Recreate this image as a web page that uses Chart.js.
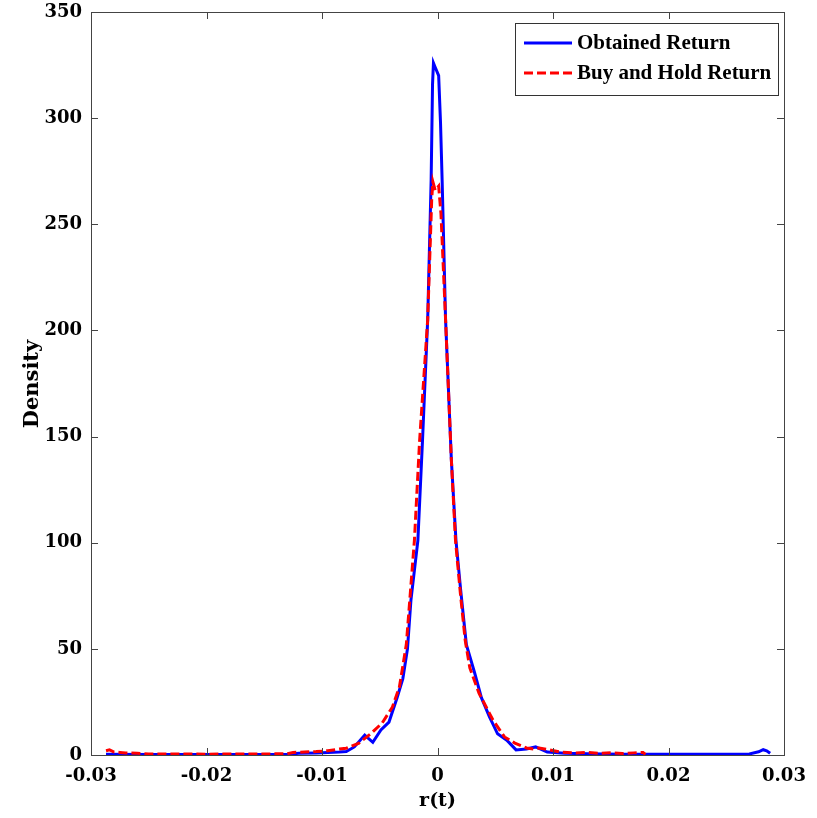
<!DOCTYPE html>
<html>
<head>
<meta charset="utf-8">
<script src="https://cdn.jsdelivr.net/npm/chart.js@4.4.0/dist/chart.umd.min.js"></script>
<style>
  body { margin: 0; background: #fff; }
  canvas { display: block; }
</style>
</head>
<body>
<canvas id="densityChart" width="817" height="818"></canvas>
<script>
const xTicks = [-0.03, -0.02, -0.01, 0, 0.01, 0.02, 0.03];
const xTickLabels = ['-0.03', '-0.02', '-0.01', '0', '0.01', '0.02', '0.03'];
const yTicks = [0, 50, 100, 150, 200, 250, 300, 350];
const yTickLabels = ['0', '50', '100', '150', '200', '250', '300', '350'];

// Obtained Return (solid blue)
const obtainedR = [
    -0.0287, -0.025, -0.02, -0.015, -0.013, -0.012, -0.0105, -0.0095, -0.0085, -0.0079,
    -0.0072, -0.0063, -0.0056, -0.0049, -0.0042, -0.0035, -0.003, -0.0026, -0.0023, -0.0017,
    -0.0013, -0.00085, -0.00055, -0.00043, -0.00035, -0.0002, 0.0001, 0.00026, 0.0004, 0.0007,
    0.0012, 0.0016, 0.002, 0.0025, 0.0032, 0.0038, 0.0045, 0.0052, 0.006, 0.0068,
    0.0077, 0.0085, 0.0095, 0.011, 0.013, 0.016, 0.02, 0.025, 0.027, 0.0278,
    0.0282, 0.0285, 0.0288
];
const obtainedDensity = [
    0.3, 0.2, 0.2, 0.2, 0.3, 0.8, 1.0, 1.2, 1.4, 1.6,
    3.8, 9.4, 6.0, 11.8, 15.5, 27, 36, 50, 73, 101,
    148, 205, 271, 316, 326, 324, 320, 298, 271, 205,
    139, 101, 78, 52, 39, 27, 18, 10, 7, 2.4,
    2.8, 3.8, 1.4, 0.8, 0.6, 0.4, 0.3, 0.3, 0.5, 1.5,
    2.5, 2.0, 0.8
];

// Buy and Hold Return (dashed red)
const buyHoldR = [
    -0.0287, -0.0284, -0.028, -0.0275, -0.027, -0.026, -0.025, -0.02, -0.015, -0.013,
    -0.0125, -0.0115, -0.0105, -0.0095, -0.0085, -0.0079, -0.0068, -0.0057, -0.0048, -0.0039,
    -0.0033, -0.0027, -0.002, -0.00155, -0.00085, -0.0005, -0.0004, -0.0002, 0.0001, 0.0003,
    0.0007, 0.0012, 0.00156, 0.002, 0.0024, 0.0028, 0.0036, 0.0048, 0.0058, 0.0067,
    0.0077, 0.0083, 0.0088, 0.0097, 0.0106, 0.012, 0.013, 0.014, 0.015, 0.016,
    0.017, 0.0178, 0.018
];
const buyHoldDensity = [
    2.0, 2.4, 1.4, 1.2, 1.0, 0.8, 0.5, 0.4, 0.5, 0.6,
    1.2, 1.4, 1.6, 2.0, 2.8, 3.2, 5.6, 10.4, 15, 22.6,
    32, 52, 101, 148, 205, 262, 270, 266, 268, 255,
    205, 139, 101, 75, 54, 41, 29, 16.5, 8.5, 5.6,
    3.3, 2.8, 3.3, 2.4, 1.4, 1.0, 1.2, 0.8, 1.1, 0.7,
    1.0, 1.2, 0.3
];

const toPoints = (xs, ys) => xs.map((x, i) => ({ x: x, y: ys[i] }));

const tickFont = { family: 'DejaVu Serif', size: 18, weight: 'bold' };
const frameColor = '#444';

const matlabFrame = {
    id: 'matlabFrame',
    afterDatasetsDraw(chart) {
        const { ctx, chartArea: a, scales } = chart;
        const tl = 7;
        ctx.save();
        ctx.strokeStyle = frameColor;
        ctx.lineWidth = 1;
        ctx.beginPath();
        xTicks.forEach(v => {
            const px = Math.round(scales.x.getPixelForValue(v)) + 0.5;
            ctx.moveTo(px, a.bottom); ctx.lineTo(px, a.bottom - tl);
            ctx.moveTo(px, a.top); ctx.lineTo(px, a.top + tl);
        });
        yTicks.forEach(v => {
            const py = Math.round(scales.y.getPixelForValue(v)) + 0.5;
            ctx.moveTo(a.left, py); ctx.lineTo(a.left + tl, py);
            ctx.moveTo(a.right, py); ctx.lineTo(a.right - tl, py);
        });
        ctx.stroke();
        ctx.strokeRect(Math.round(a.left) + 0.5, Math.round(a.top) + 0.5,
            Math.round(a.right - a.left), Math.round(a.bottom - a.top));
        ctx.restore();
    },
    afterDraw(chart) {
        const { ctx, chartArea: a } = chart;
        ctx.save();
        // axis titles
        ctx.fillStyle = '#000';
        ctx.font = 'bold 19px "DejaVu Serif"';
        ctx.textAlign = 'center';
        ctx.textBaseline = 'middle';
        ctx.fillText('r(t)', (a.left + a.right) / 2, 801);
        ctx.font = 'bold 21px "DejaVu Serif"';
        ctx.translate(33, 384);
        ctx.rotate(-Math.PI / 2);
        ctx.fillText('Density', 0, 0);
        ctx.restore();

        // legend box
        ctx.save();
        const bx = 515, by = 23, bw = 263, bh = 72;
        ctx.fillStyle = '#fff';
        ctx.fillRect(bx, by, bw, bh);
        ctx.strokeStyle = '#333';
        ctx.lineWidth = 1;
        ctx.strokeRect(bx + 0.5, by + 0.5, bw, bh);
        ctx.font = 'bold 21px "Liberation Serif"';
        ctx.textAlign = 'left';
        ctx.textBaseline = 'middle';
        chart.data.datasets.forEach((ds, i) => {
            const ly = 43 + i * 30;
            ctx.strokeStyle = ds.borderColor;
            ctx.lineWidth = ds.borderWidth;
            ctx.setLineDash(ds.borderDash || []);
            ctx.beginPath();
            ctx.moveTo(524, ly);
            ctx.lineTo(572, ly);
            ctx.stroke();
            ctx.setLineDash([]);
            ctx.fillStyle = '#000';
            ctx.fillText(ds.label, 577, ly + 1);
        });
        ctx.restore();
    }
};

new Chart(document.getElementById('densityChart'), {
    type: 'line',
    data: {
        datasets: [
            {
                label: 'Obtained Return',
                data: toPoints(obtainedR, obtainedDensity),
                borderColor: '#0000ff',
                borderWidth: 3,
                pointRadius: 0,
                tension: 0,
                order: 2
            },
            {
                label: 'Buy and Hold Return',
                data: toPoints(buyHoldR, buyHoldDensity),
                borderColor: '#ff0000',
                borderWidth: 3,
                borderDash: [9, 4],
                pointRadius: 0,
                tension: 0,
                order: 1
            }
        ]
    },
    options: {
        responsive: false,
        animation: false,
        devicePixelRatio: 1,
        layout: { padding: { top: 12, right: 33, left: 0, bottom: 0 } },
        plugins: { legend: { display: false }, tooltip: { enabled: false } },
        scales: {
            x: {
                type: 'linear',
                min: -0.03,
                max: 0.03,
                afterBuildTicks: scale => { scale.ticks = xTicks.map(v => ({ value: v })); },
                afterFit: scale => {
                    scale.height = 63;
                    scale.paddingLeft = 0;
                    scale.paddingRight = 0;
                },
                grid: { display: false, drawTicks: false },
                border: { display: false },
                ticks: {
                    font: tickFont,
                    color: '#000',
                    padding: 11,
                    maxRotation: 0,
                    autoSkip: false,
                    callback: (value, index) => xTickLabels[index]
                }
            },
            y: {
                type: 'linear',
                min: 0,
                max: 350,
                afterBuildTicks: scale => { scale.ticks = yTicks.map(v => ({ value: v })); },
                afterFit: scale => {
                    scale.width = 91;
                    scale.paddingTop = 0;
                    scale.paddingBottom = 0;
                },
                grid: { display: false, drawTicks: false },
                border: { display: false },
                ticks: {
                    font: tickFont,
                    color: '#000',
                    padding: 9,
                    autoSkip: false,
                    callback: (value, index) => yTickLabels[index]
                }
            }
        }
    },
    plugins: [matlabFrame]
});
</script>
</body>
</html>
